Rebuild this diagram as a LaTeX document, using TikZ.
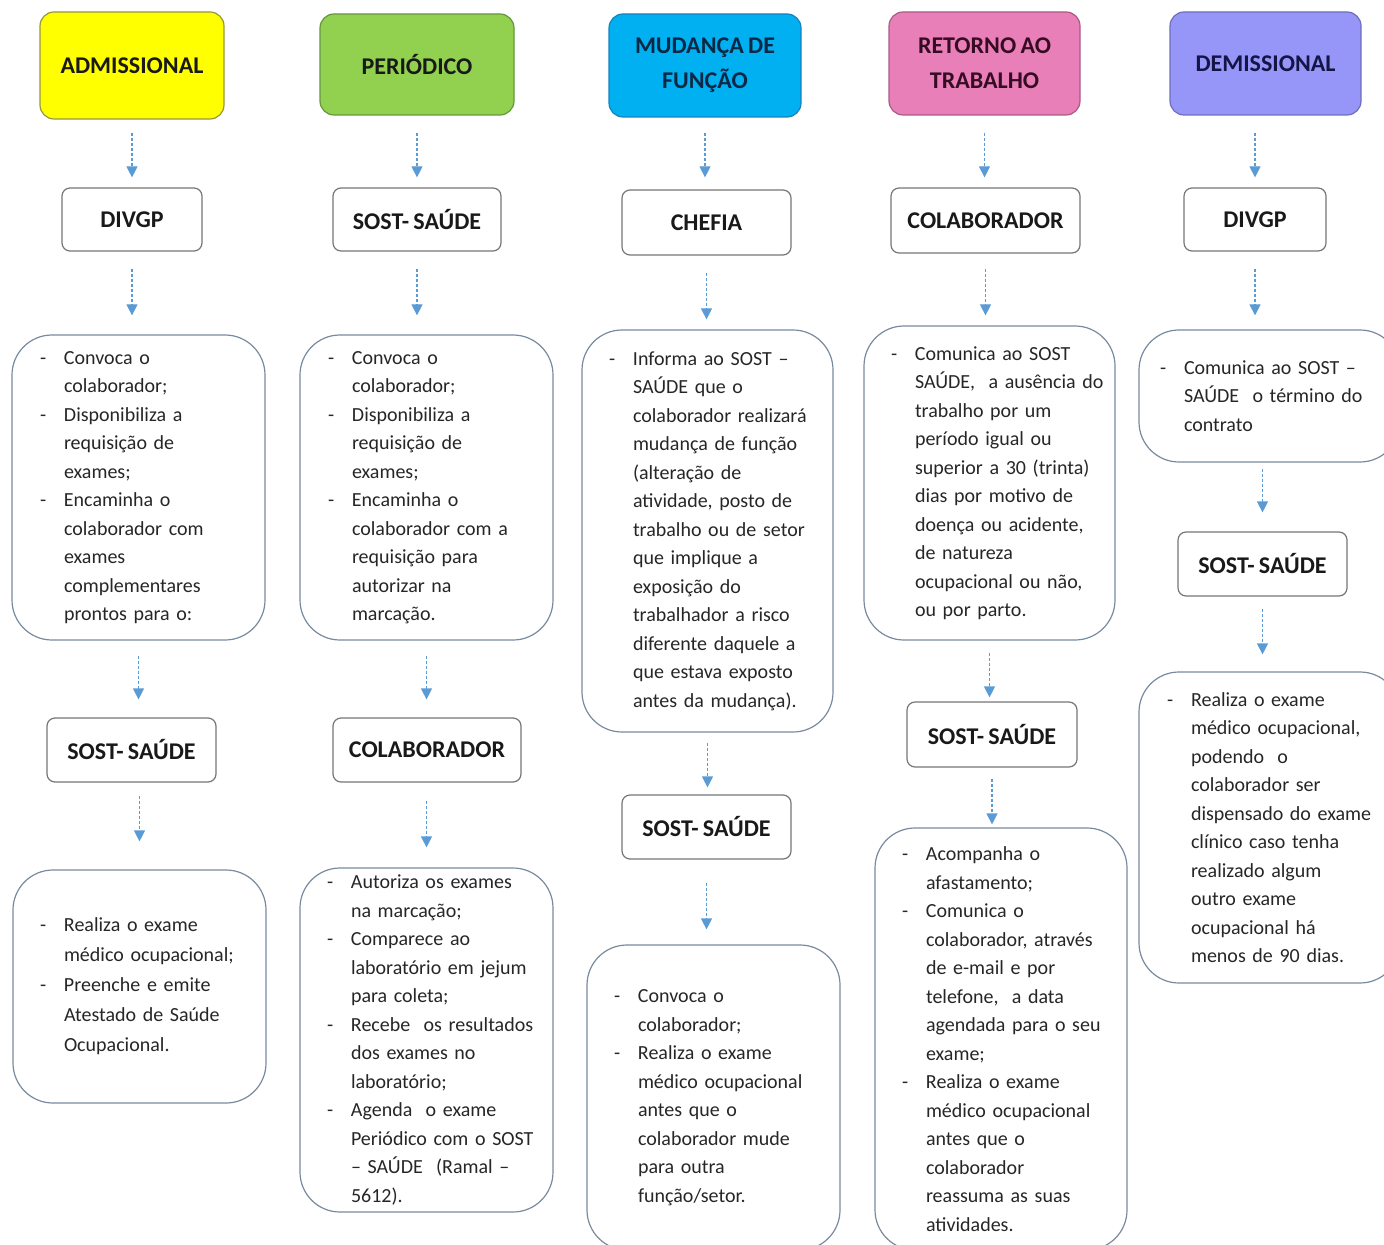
\documentclass[tikz,border=0pt]{standalone}
\usepackage{fontspec}
\setmainfont{Carlito}[WordSpace=0.8]
\usetikzlibrary{arrows.meta,calc}

\newcommand{\itm}[1]{\mbox{\makebox[12pt][l]{-}#1}}
\newcommand{\cnt}[1]{\mbox{\hspace*{12pt}#1}}

\begin{document}
\begin{tikzpicture}[x=0.5pt,y=-0.5pt]

		\definecolor{admyellow}{RGB}{255,255,0}
		\definecolor{admborder}{RGB}{150,150,60}
		\definecolor{pergreen}{RGB}{146,208,80}
		\definecolor{perborder}{RGB}{100,150,60}
		\definecolor{mudblue}{RGB}{0,176,240}
		\definecolor{mudborder}{RGB}{20,130,190}
		\definecolor{retpink}{RGB}{233,127,184}
		\definecolor{retborder}{RGB}{170,90,135}
		\definecolor{demlav}{RGB}{150,150,248}
		\definecolor{demborder}{RGB}{110,110,190}
		\definecolor{boxgray}{RGB}{118,118,118}
		\definecolor{txtgray}{RGB}{120,138,158}
		\definecolor{arrblue}{RGB}{91,155,213}

		\useasboundingbox (0,0) rectangle (1384,1245);

		\tikzset{head/.style = {shape=rectangle,rounded corners=7pt,draw,line width=0.6pt,align=center,font=\fontsize{12}{17.5}\selectfont\bfseries}}
		\tikzset{lbl/.style = {shape=rectangle,rounded corners=4pt,draw=boxgray,line width=0.6pt,fill=white,text=black!90,font=\fontsize{12}{14}\selectfont\bfseries}}
		\tikzset{txt/.style = {shape=rectangle,rounded corners=20pt,draw=txtgray,line width=0.6pt,inner xsep=0pt,align=left,text=black!85,font=\fontsize{10}{14.25}\selectfont}}
		\tikzset{arr/.style = {draw=arrblue,line width=0.6pt,dash pattern=on 1.5pt off 1pt,-{Triangle[length=5.5pt,width=5.5pt,fill=arrblue]}}}

		% cabecalhos
		\node[head,fill=admyellow,draw=admborder,text=black!90,minimum width=92pt,minimum height=53.5pt] (h1) at (132,65.5) {ADMISSIONAL};
		\node[head,fill=pergreen,draw=perborder,text=black!90,minimum width=97pt,minimum height=50.5pt] (h2) at (417,64.5) {PERIÓDICO};
		\node[head,fill=mudblue,draw=mudborder,text={rgb,255:red,12;green,40;blue,70},minimum width=96pt,minimum height=51.5pt] (h3) at (705,65.5) {MUDANÇA DE\\FUNÇÃO};
		\node[head,fill=retpink,draw=retborder,text={rgb,255:red,55;green,12;blue,35},minimum width=95.5pt,minimum height=51.5pt] (h4) at (984.5,63.5) {RETORNO AO\\TRABALHO};
		\node[head,fill=demlav,draw=demborder,text={rgb,255:red,20;green,20;blue,70},minimum width=95.5pt,minimum height=51.5pt] (h5) at (1265.5,63.5) {DEMISSIONAL};

		% responsaveis
		\node[lbl,minimum width=70pt,minimum height=31.5pt] (d1) at (132,219.5) {DIVGP};
		\node[lbl,minimum width=84.5pt,minimum height=32pt] (s1) at (131.5,750) {SOST- SAÚDE};
		\node[lbl,minimum width=84pt,minimum height=31.5pt] (d2) at (417,219.5) {SOST- SAÚDE};
		\node[lbl,minimum width=94pt,minimum height=32pt] (s2) at (427,750) {COLABORADOR};
		\node[lbl,minimum width=84.5pt,minimum height=32.5pt] (d3) at (706.5,222.5) {CHEFIA};
		\node[lbl,minimum width=84.5pt,minimum height=32pt] (s3) at (706.5,827) {SOST- SAÚDE};
		\node[lbl,minimum width=94.5pt,minimum height=32.5pt] (d4) at (985.5,220.5) {COLABORADOR};
		\node[lbl,minimum width=85pt,minimum height=32.5pt] (s4) at (992,734.5) {SOST- SAÚDE};
		\node[lbl,minimum width=71pt,minimum height=31.5pt] (d5) at (1255,219.5) {DIVGP};
		\node[lbl,minimum width=84.5pt,minimum height=32pt] (s5) at (1262.5,564) {SOST- SAÚDE};

		% atividades
		\node[txt,minimum width=126.5pt,minimum height=152.5pt,text width=98.5pt] (t1a) at (138.5,487.5) {%
			\itm{Convoca o}\\ \cnt{colaborador;}\\ \itm{Disponibiliza a}\\ \cnt{requisição de}\\ \cnt{exames;}\\
			\itm{Encaminha o}\\ \cnt{colaborador com}\\ \cnt{exames}\\ \cnt{complementares}\\ \cnt{prontos para o:}};
		\node[txt,minimum width=126.5pt,minimum height=116.5pt,text width=99.5pt,font=\fontsize{10}{15}\selectfont] (t1b) at (139.5,986.5) {%
			\itm{Realiza o exame}\\ \cnt{médico ocupacional;}\\ \itm{Preenche e emite}\\ \cnt{Atestado de Saúde}\\ \cnt{Ocupacional.}};
		\node[txt,minimum width=126.5pt,minimum height=152.5pt,text width=98.5pt] (t2a) at (426.5,487.5) {%
			\itm{Convoca o}\\ \cnt{colaborador;}\\ \itm{Disponibiliza a}\\ \cnt{requisição de}\\ \cnt{exames;}\\
			\itm{Encaminha o}\\ \cnt{colaborador com a}\\ \cnt{requisição para}\\ \cnt{autorizar na}\\ \cnt{marcação.}};
		\node[txt,minimum width=126.5pt,minimum height=172pt,text width=99.5pt] (t2b) at (426.5,1040) {%
			\itm{Autoriza os exames}\\ \cnt{na marcação;}\\ \itm{Comparece ao}\\ \cnt{laboratório em jejum}\\ \cnt{para coleta;}\\
			\itm{Recebe\ \ os resultados}\\ \cnt{dos exames no}\\ \cnt{laboratório;}\\ \itm{Agenda\ \ o exame}\\
			\cnt{Periódico com o SOST}\\ \cnt{– SAÚDE\ \ (Ramal –}\\ \cnt{5612).}};
		\node[txt,minimum width=125.5pt,minimum height=201pt,text width=98.5pt] (t3a) at (707.5,531) {%
			\itm{Informa ao SOST –}\\ \cnt{SAÚDE que o}\\ \cnt{colaborador realizará}\\ \cnt{mudança de função}\\ \cnt{(alteração de}\\
			\cnt{atividade, posto de}\\ \cnt{trabalho ou de setor}\\ \cnt{que implique a}\\ \cnt{exposição do}\\ \cnt{trabalhador a risco}\\
			\cnt{diferente daquele a}\\ \cnt{que estava exposto}\\ \cnt{antes da mudança).}};
		\node[txt,minimum width=126.5pt,minimum height=152.5pt,text width=99.5pt] (t3b) at (713.5,1097.5) {%
			\itm{Convoca o}\\ \cnt{colaborador;}\\ \itm{Realiza o exame}\\ \cnt{médico ocupacional}\\ \cnt{antes que o}\\
			\cnt{colaborador mude}\\ \cnt{para outra}\\ \cnt{função/setor.}};
		\node[txt,minimum width=125.5pt,minimum height=157pt,text width=98.5pt] (t4a) at (989.5,483) {%
			\itm{Comunica ao SOST}\\ \cnt{SAÚDE,\ \ a ausência do}\\ \cnt{trabalho por um}\\ \cnt{período igual ou}\\ \cnt{superior a 30 (trinta)}\\
			\cnt{dias por motivo de}\\ \cnt{doença ou acidente,}\\ \cnt{de natureza}\\ \cnt{ocupacional ou não,}\\ \cnt{ou por parto.}};
		\node[txt,minimum width=126pt,minimum height=211pt,text width=99pt] (t4b) at (1001,1039) {%
			\itm{Acompanha o}\\ \cnt{afastamento;}\\ \itm{Comunica o}\\ \cnt{colaborador, através}\\ \cnt{de e-mail e por}\\
			\cnt{telefone,\ \ a data}\\ \cnt{agendada para o seu}\\ \cnt{exame;}\\ \itm{Realiza o exame}\\ \cnt{médico ocupacional}\\
			\cnt{antes que o}\\ \cnt{colaborador}\\ \cnt{reassuma as suas}\\ \cnt{atividades.}};
		\node[txt,minimum width=130.5pt,minimum height=66pt,text width=109.5pt] (t5a) at (1269.5,396) {%
			\itm{Comunica ao SOST –}\\ \cnt{SAÚDE\ \ o término do}\\ \cnt{contrato}};
		\node[txt,minimum width=130.5pt,minimum height=155.5pt,text width=102.5pt] (t5b) at (1269.5,827.5) {%
			\itm{Realiza o exame}\\ \cnt{médico ocupacional,}\\ \cnt{podendo\ \ o}\\ \cnt{colaborador ser}\\ \cnt{dispensado do exame}\\
			\cnt{clínico caso tenha}\\ \cnt{realizado algum}\\ \cnt{outro exame}\\ \cnt{ocupacional há}\\ \cnt{menos de 90 dias.}};

		% setas
		\draw[arr] ($(h1.south)+(0,-6.5pt)$) -- ($(h1.south |- d1.north)+(0,5pt)$);
		\draw[arr] ($(d1.south)+(0,-8.5pt)$) -- ($(d1.south |- t1a.north)+(0,9.5pt)$);
		\draw[arr] ($(t1a.south)+(0,-7.5pt)$) -- ($(t1a.south |- s1.north)+(0,9pt)$);
		\draw[arr] ($(s1.south -| t1b.north)+(0,-6.5pt)$) -- ($(t1b.north)+(0,14pt)$);

		\draw[arr] ($(h2.south)+(0,-8.5pt)$) -- ($(h2.south |- d2.north)+(0,5pt)$);
		\draw[arr] ($(d2.south)+(0,-8.5pt)$) -- ($(d2.south |- t2a.north)+(0,9.5pt)$);
		\draw[arr] ($(t2a.south)+(0,-7.5pt)$) -- ($(t2a.south |- s2.north)+(0,9pt)$);
		\draw[arr] ($(s2.south -| t2b.north)+(0,-9pt)$) -- ($(t2b.north)+(0,10pt)$);

		\draw[arr] ($(h3.south)+(0,-7.5pt)$) -- ($(h3.south |- d3.north)+(0,6pt)$);
		\draw[arr] ($(d3.south)+(0,-8.5pt)$) -- ($(d3.south |- t3a.north)+(0,5pt)$);
		\draw[arr] ($(t3a.south)+(0,-5pt)$) -- ($(t3a.south |- s3.north)+(0,3.5pt)$);
		\draw[arr] ($(s3.south)+(0,-11.5pt)$) -- ($(s3.south |- t3b.north)+(0,7.5pt)$);

		\draw[arr] ($(h4.south)+(0,-8.5pt)$) -- ($(h4.south |- d4.north)+(0,5pt)$);
		\draw[arr] ($(d4.south)+(0,-7.5pt)$) -- ($(d4.south |- t4a.north)+(0,5pt)$);
		\draw[arr] ($(t4a.south)+(0,-6pt)$) -- ($(t4a.south |- s4.north)+(0,2pt)$);
		\draw[arr] ($(s4.south)+(0,-5.5pt)$) -- ($(s4.south |- t4b.north)+(0,1.5pt)$);

		\draw[arr] ($(h5.south -| d5.north)+(0,-8.5pt)$) -- ($(d5.north)+(0,5pt)$);
		\draw[arr] ($(d5.south)+(0,-8.5pt)$) -- ($(d5.south |- t5a.north)+(0,7pt)$);
		\draw[arr] ($(t5a.south -| s5.north)+(0,-3pt)$) -- ($(s5.north)+(0,9.5pt)$);
		\draw[arr] ($(s5.south)+(0,-6pt)$) -- ($(s5.south |- t5b.north)+(0,8.5pt)$);
\end{tikzpicture}
\end{document}
